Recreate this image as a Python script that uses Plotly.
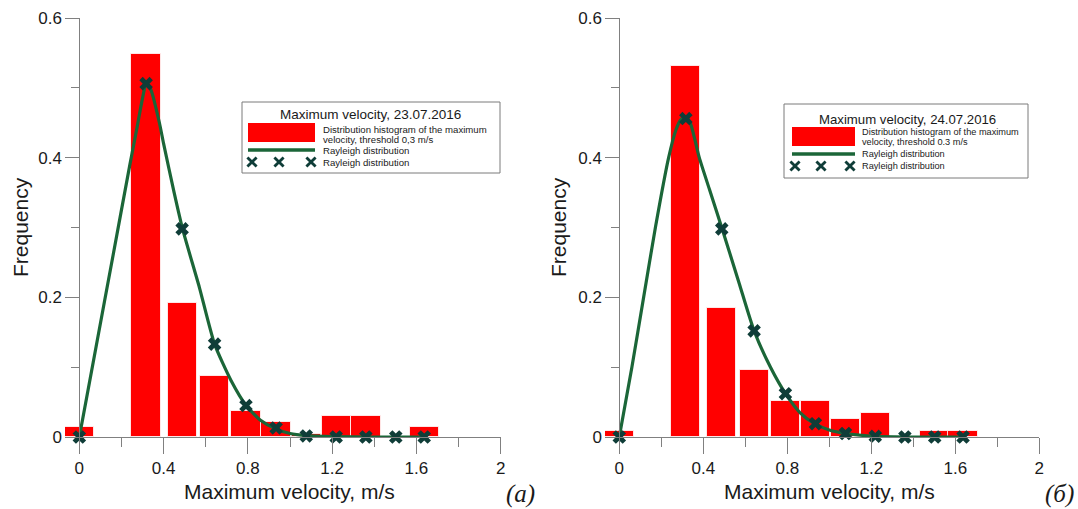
import plotly.graph_objects as go

# ---------------- data ----------------
bin_centers = [0, 0.317, 0.488, 0.642, 0.791, 0.934, 1.077, 1.219, 1.36, 1.502, 1.637]
bin_width = 0.139

freq_a = [0.0143, 0.548, 0.192, 0.088, 0.037, 0.021, 0.005, 0.0295, 0.0295, 0.0, 0.0143]
freq_b = [0.008, 0.531, 0.185, 0.096, 0.052, 0.052, 0.026, 0.035, 0.0, 0.008, 0.008]

rayleigh_pts_a = [0, 0.506, 0.298, 0.133, 0.045, 0.013, 0.0015, 0.0, 0.0, 0.0, 0.0]
rayleigh_pts_b = [0, 0.456, 0.298, 0.152, 0.062, 0.019, 0.005, 0.001, 0.0, 0.0, 0.0]

curve_x_a = [0, 0.08, 0.16, 0.24, 0.275, 0.298, 0.318, 0.34, 0.38, 0.40, 0.45, 0.49, 0.57, 0.642,
             0.72, 0.792, 0.86, 0.93, 1.0, 1.078, 1.2, 1.4, 1.64]
curve_y_a = [0, 0.13, 0.26, 0.39, 0.445, 0.482, 0.507, 0.497, 0.45, 0.42, 0.35, 0.298, 0.214, 0.133,
             0.081, 0.045, 0.024, 0.012, 0.005, 0.002, 0.0005, 0.0, 0.0]

curve_x_b = [0, 0.06, 0.116, 0.172, 0.235, 0.27, 0.295, 0.318, 0.34, 0.381, 0.43, 0.49, 0.57, 0.642,
             0.72, 0.792, 0.86, 0.93, 1.0, 1.078, 1.22, 1.4, 1.64]
curve_y_b = [0, 0.10, 0.20, 0.30, 0.40, 0.44, 0.455, 0.458, 0.448, 0.40, 0.354, 0.298, 0.221, 0.152,
             0.10, 0.062, 0.035, 0.019, 0.01, 0.005, 0.001, 0.0, 0.0]

x_ticks = [0, 0.4, 0.8, 1.2, 1.6, 2]
y_ticks = [0, 0.2, 0.4, 0.6]

title_a = "Maximum velocity, 23.07.2016"
title_b = "Maximum velocity, 24.07.2016"
hist_a = ["Distribution histogram of the maximum", "velocity, threshold 0,3 m/s"]
hist_b = ["Distribution histogram of the maximum", "velocity, threshold 0.3 m/s"]
ray_label = "Rayleigh distribution"
x_title = "Maximum velocity, m/s"
y_title = "Frequency"
panel_a = "(а)"
panel_b = "(б)"

# ---------------- styling ----------------
W, H = 1078, 509
RED = "#ff0000"
GREEN = "#1b6638"
XCOL = "#0f3d38"
AXC = "#808080"
TXT = "#1a1a1a"
FONT = "Liberation Sans"


def px(x):
    return x / W


def py(y):
    return 1 - y / H


fig = go.Figure()

for i, (freq, pts, cx, cy) in enumerate([(freq_a, rayleigh_pts_a, curve_x_a, curve_y_a),
                                         (freq_b, rayleigh_pts_b, curve_x_b, curve_y_b)]):
    xa = "x" if i == 0 else "x2"
    ya = "y" if i == 0 else "y2"
    fig.add_trace(go.Bar(x=bin_centers, y=freq, width=bin_width, xaxis=xa, yaxis=ya,
                         marker=dict(color=RED, line=dict(color="rgba(255,255,255,0.8)", width=1)),
                         showlegend=False))
    fig.add_trace(go.Scatter(x=cx, y=cy, mode="lines", xaxis=xa, yaxis=ya,
                             line=dict(color=GREEN, width=3.2, shape="spline", smoothing=0.6),
                             cliponaxis=False, showlegend=False))
    fig.add_trace(go.Scatter(x=bin_centers, y=pts, mode="markers", xaxis=xa, yaxis=ya,
                             marker=dict(symbol="x", size=12, color=XCOL, line=dict(width=0)),
                             cliponaxis=False, showlegend=False))

# axis geometry (pixels)
ydom = [py(437), py(18)]
xr = [-0.068, 2.0]
ax_a = (65, 500.7)
ax_b = (605, 1039.3)
yaxis_pos_a = 79.3
yaxis_pos_b = 619.3

common_x = dict(range=xr, tick0=x_ticks[0], dtick=x_ticks[1] - x_ticks[0], ticks="outside", ticklen=16,
                tickcolor=AXC, tickwidth=1, showline=True, linecolor=AXC, linewidth=1, automargin=False,
                showgrid=False, zeroline=False, tickfont=dict(family=FONT, size=17, color=TXT),
                minor=dict(ticks="outside", ticklen=9, dtick=0.2, tick0=0, tickcolor=AXC, tickwidth=1,
                           showgrid=False))
common_y = dict(range=[y_ticks[0], y_ticks[-1]], tick0=y_ticks[0], dtick=y_ticks[1] - y_ticks[0],
                ticks="outside", ticklen=14, automargin=False,
                tickcolor=AXC, tickwidth=1, showline=True, linecolor=AXC, linewidth=1,
                showgrid=False, zeroline=False, tickfont=dict(family=FONT, size=17, color=TXT),
                minor=dict(ticks="outside", ticklen=8, dtick=0.1, tick0=0, tickcolor=AXC, tickwidth=1,
                           showgrid=False),
                domain=ydom, anchor="free")

shapes = []
annotations = []


def xmark(cx, cy, a=4.6, w=2.8):
    for s in (1, -1):
        shapes.append(dict(type="line", xref="paper", yref="paper",
                           x0=px(cx - a), x1=px(cx + a), y0=py(cy - s * a), y1=py(cy + s * a),
                           line=dict(color=XCOL, width=w), layer="above"))


def legend(box, red, gline, title_xy, title, tsize, lines_xy, lines, lsize, ray_y, marks_x):
    shapes.append(dict(type="rect", xref="paper", yref="paper", x0=px(box[0]), x1=px(box[1]),
                       y0=py(box[3]), y1=py(box[2]), line=dict(color="#7a7a7a", width=1),
                       fillcolor="white", layer="above"))
    shapes.append(dict(type="rect", xref="paper", yref="paper", x0=px(red[0]), x1=px(red[1]),
                       y0=py(red[3]), y1=py(red[2]), line=dict(width=0), fillcolor=RED, layer="above"))
    shapes.append(dict(type="line", xref="paper", yref="paper", x0=px(gline[0]), x1=px(gline[1]),
                       y0=py(gline[2]), y1=py(gline[2]), line=dict(color=GREEN, width=3.5), layer="above"))
    annotations.append(dict(text=title, x=px(title_xy[0]), y=py(title_xy[1]), xref="paper", yref="paper",
                            showarrow=False, xanchor="center", yanchor="middle",
                            font=dict(family=FONT, size=tsize, color=TXT)))
    for (lx, ly), t in zip(lines_xy, lines):
        annotations.append(dict(text=t, x=px(lx), y=py(ly), xref="paper", yref="paper",
                                showarrow=False, xanchor="left", yanchor="middle",
                                font=dict(family=FONT, size=lsize, color=TXT)))
    for yy in ray_y:
        annotations.append(dict(text=ray_label, x=px(lines_xy[0][0]), y=py(yy), xref="paper", yref="paper",
                                showarrow=False, xanchor="left", yanchor="middle",
                                font=dict(family=FONT, size=lsize, color=TXT)))
    for mx in marks_x:
        xmark(mx, ray_y[1])


legend((242, 500, 102, 173), (248, 315, 123, 142), (248, 315, 150), (370.5, 114), title_a, 13.5,
       [(321, 129), (321, 139)], hist_a, 9.6, [151, 162], [252, 279, 311])
legend((784, 1028, 104, 178), (792, 855, 127, 146), (792, 855, 154), (907.7, 119), title_b, 13.2,
       [(860, 132), (860, 141.5)], hist_b, 9.2, [154.5, 166], [795, 821, 850])

# axis titles & panel labels
for cx in (289, 829):
    annotations.append(dict(text=x_title, x=px(cx), y=py(491), xref="paper", yref="paper", showarrow=False,
                            xanchor="center", yanchor="middle", font=dict(family=FONT, size=21, color=TXT)))
for cx in (20, 558):
    annotations.append(dict(text=y_title, x=px(cx), y=py(227), xref="paper", yref="paper", showarrow=False,
                            textangle=-90, xanchor="center", yanchor="middle",
                            font=dict(family=FONT, size=21, color=TXT)))
for cx, t in ((520, panel_a), (1059, panel_b)):
    annotations.append(dict(text="<i>" + t + "</i>", x=px(cx), y=py(494), xref="paper", yref="paper",
                            showarrow=False, xanchor="center", yanchor="middle",
                            font=dict(family="Liberation Serif", size=25, color=TXT)))

fig.update_layout(
    width=W, height=H, margin=dict(l=0, r=0, t=0, b=0, pad=0),
    plot_bgcolor="white", paper_bgcolor="white", bargap=0,
    xaxis=dict(domain=[px(ax_a[0]), px(ax_a[1])], anchor="y", **common_x),
    xaxis2=dict(domain=[px(ax_b[0]), px(ax_b[1])], anchor="y2", **common_x),
    yaxis=dict(position=px(yaxis_pos_a), **common_y),
    yaxis2=dict(position=px(yaxis_pos_b), **common_y),
    shapes=shapes, annotations=annotations, showlegend=False,
)

fig.write_html("out.html", config={"displayModeBar": False},
               post_script="document.body.style.margin='0';document.body.style.overflow='hidden';")
